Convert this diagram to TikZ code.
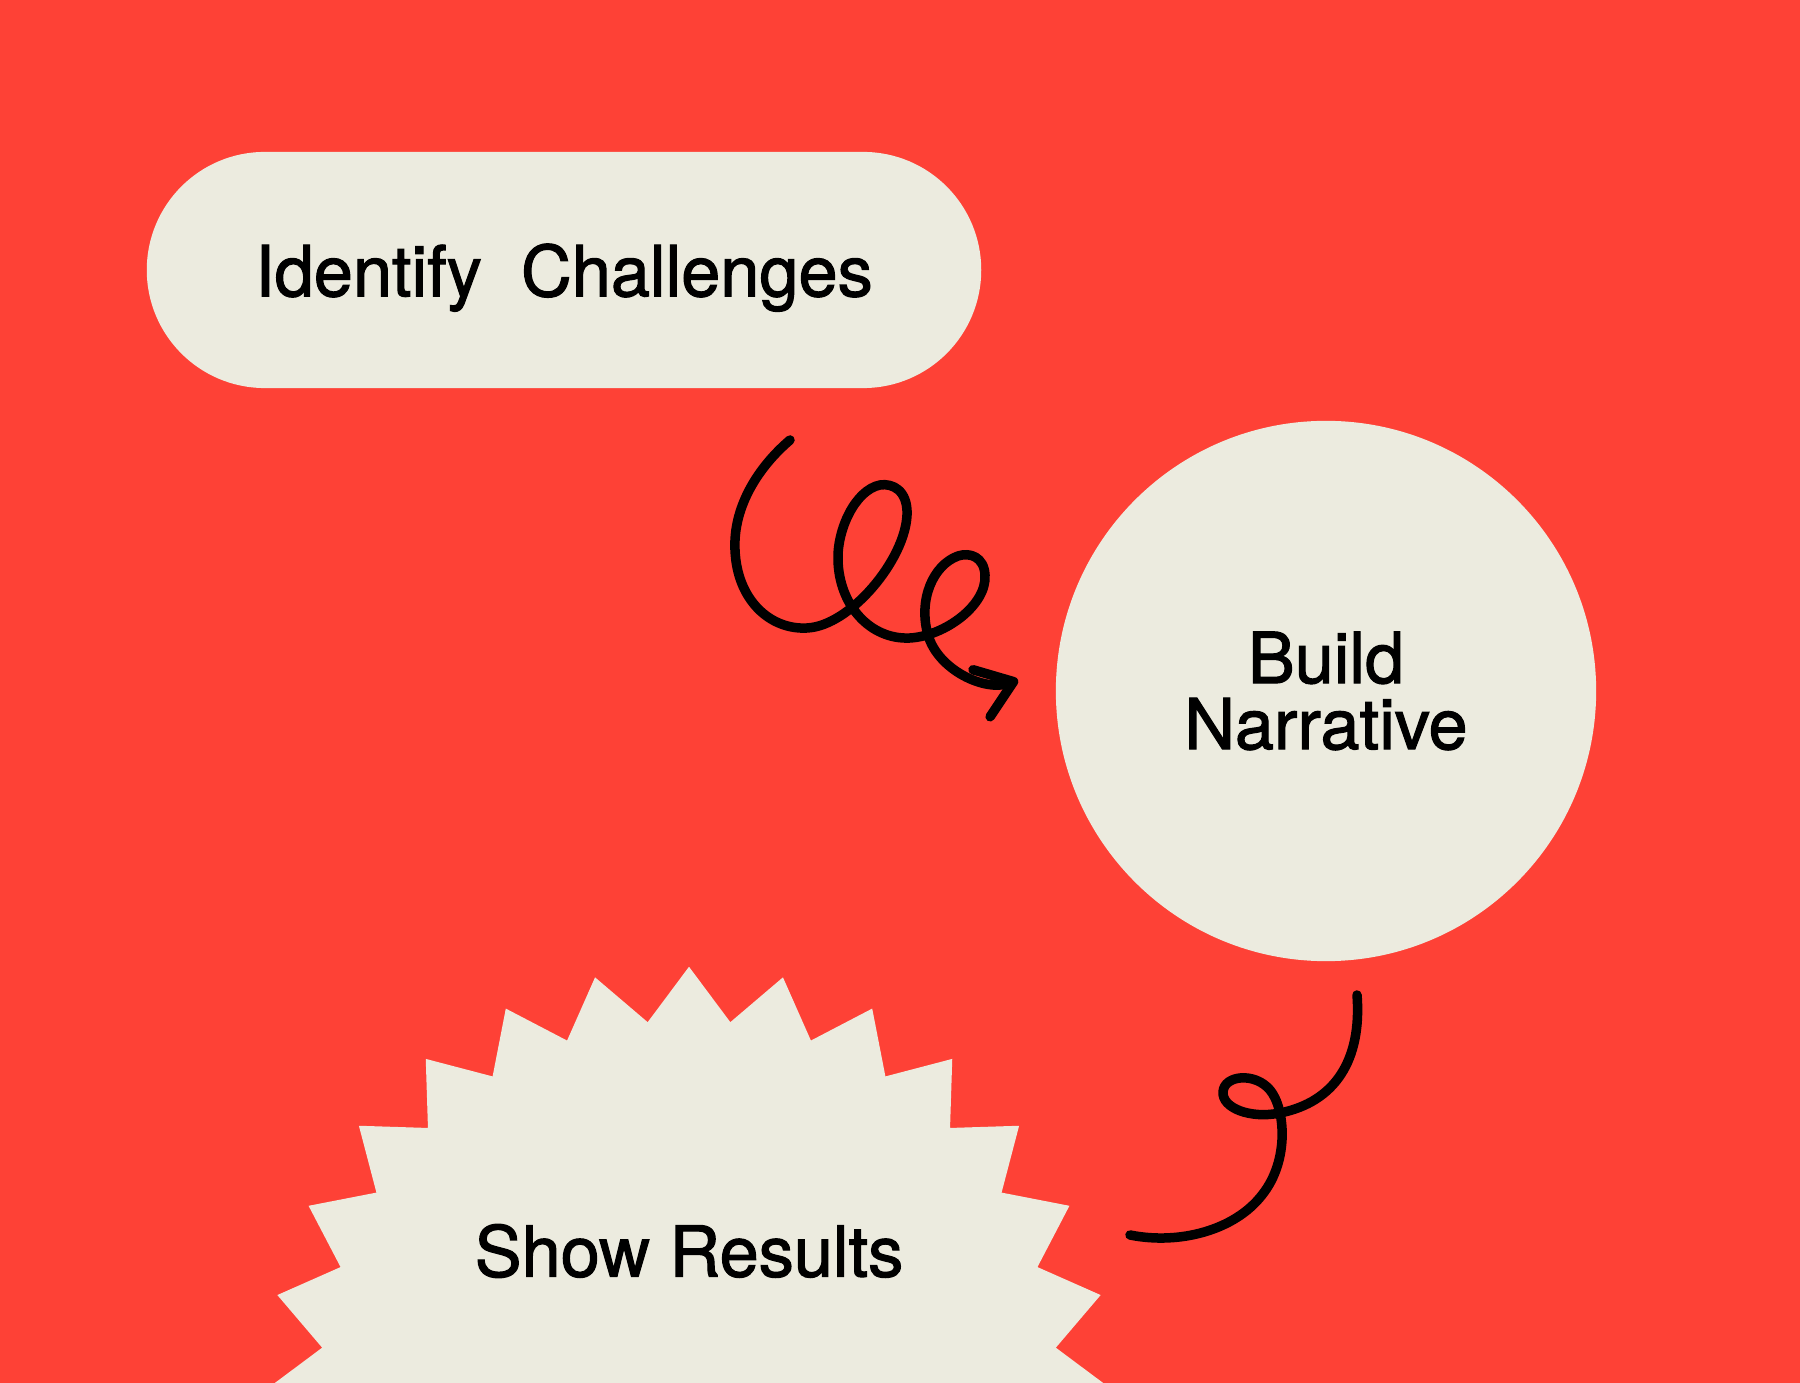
\documentclass[tikz,border=0pt]{standalone}
\usepackage{fontspec}
\setmainfont{TeX Gyre Heros}
\newfontfamily\labelfont{TeX Gyre Heros}[FakeBold=1.6]
\usetikzlibrary{shapes.geometric,arrows.meta}
\definecolor{poppy}{RGB}{254,65,54}
\definecolor{paper}{RGB}{236,235,223}

\begin{document}
\begin{tikzpicture}[x=0.01cm,y=-0.01cm]
			\tikzstyle{pill} = [fill=paper, rounded corners=1.18cm, minimum width=8.34cm, minimum height=2.36cm, text depth=0pt, font=\labelfont\fontsize{20}{20}\selectfont]
			\tikzstyle{bubble} = [circle, fill=paper, minimum size=5.4cm, align=center, font=\labelfont\fontsize{20}{18.8}\selectfont]
			\tikzstyle{burst} = [star, star points=28, star point ratio=1.144, fill=paper, minimum size=8.44cm, inner sep=0pt]
			\tikzstyle{caption} = [font=\labelfont\fontsize{20}{20}\selectfont]
			\tikzset{squiggle/.style = {line width=0.095cm, line cap=round, line join=round}}
			
			\useasboundingbox (0,0) rectangle (1800,1383);
			\fill[poppy] (0,0) rectangle (1800,1383);
			
			\node[pill](challenges) at (564,270) {Identify\ \ Challenges};
			\node[bubble](narrative) at (1326,691) {Build\\Narrative};
			\node[burst](results) at (689,1389) {};
			\node[caption](resultstext) at (689,1251) {Show Results};
			
			\coordinate (curlstart) at (790,440);
			\coordinate (curlend) at (1018,680);
			\draw[squiggle, -{Straight Barb[length=3.4mm, width=5mm, round]}] (curlstart) .. controls (755,470) and (733,510) .. (735,550) .. controls (737,600) and (770,630) .. (807,628) .. controls (850,626) and (905,560) .. (907,515) .. controls (908,490) and (892,483) .. (880,485) .. controls (855,490) and (837,530) .. (838,560) .. controls (839,605) and (870,640) .. (910,638) .. controls (945,636) and (987,605) .. (985,575) .. controls (984,557) and (970,552) .. (958,556) .. controls (933,565) and (918,600) .. (928,635) .. controls (938,670) and (985,692) .. (curlend);
			
			\coordinate (loopstart) at (1357,995);
			\coordinate (loopend) at (1130,1235);
			\draw[squiggle] (loopstart) .. controls (1362,1060) and (1335,1102) .. (1280,1113) .. controls (1250,1119) and (1222,1108) .. (1223,1092) .. controls (1224,1075) and (1255,1072) .. (1270,1090) .. controls (1285,1108) and (1290,1160) .. (1262,1195) .. controls (1235,1230) and (1180,1245) .. (loopend);
			
			\end{tikzpicture}
\end{document}
